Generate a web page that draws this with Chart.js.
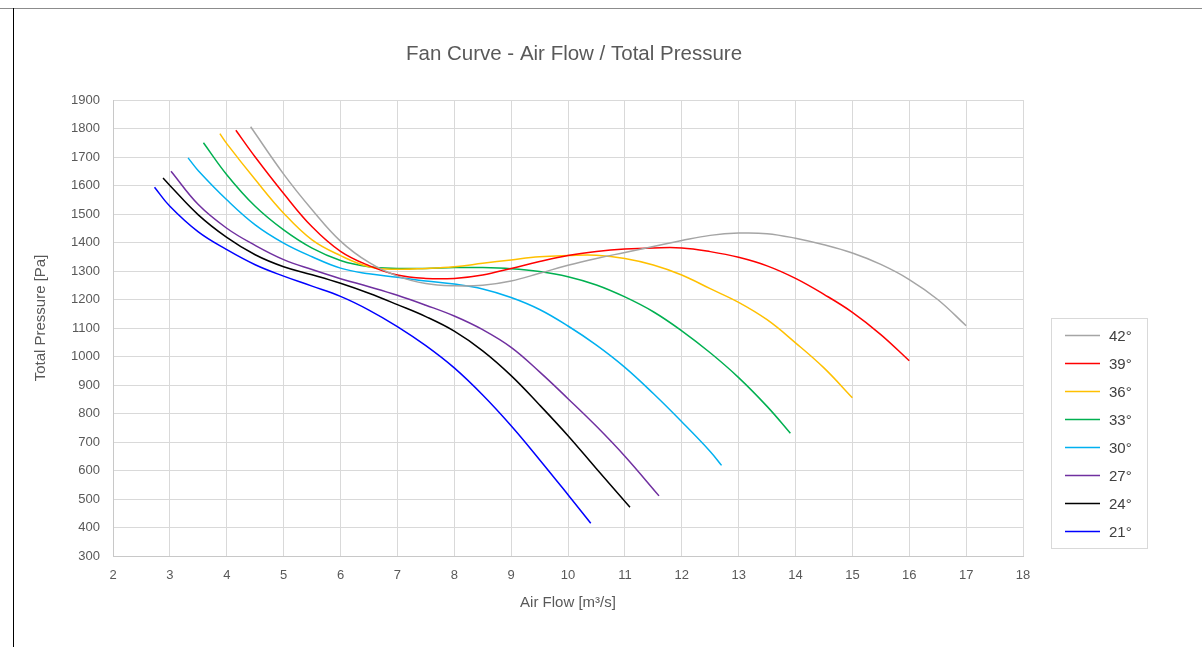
<!DOCTYPE html>
<html>
<head>
<meta charset="utf-8">
<title>Fan Curve</title>
<script src="https://cdn.jsdelivr.net/npm/chart.js@4.4.1/dist/chart.umd.min.js"></script>
<style>
  html, body { margin: 0; padding: 0; background: #fff; }
  #wrap { position: relative; width: 1202px; height: 647px; overflow: hidden; }
  #frameTop { position: absolute; left: 0; top: 8px; width: 1202px; height: 1px; background: #8c8c8c; }
  #frameLeft { position: absolute; left: 13px; top: 8px; width: 1px; height: 639px; background: #000; }
  canvas { position: absolute; left: 0; top: 0; }
</style>
</head>
<body>
<div id="wrap">
  <canvas id="fanChart" width="1202" height="647"></canvas>
  <div id="frameTop"></div>
  <div id="frameLeft"></div>
</div>
<script>
// blade angles (legend order) and line colours
const angles = ['42°', '39°', '36°', '33°', '30°', '27°', '24°', '21°'];
const colors = ['#a5a5a5', '#ff0000', '#ffc000', '#00b050', '#00b0f0', '#7030a0', '#000000', '#0000ff'];

// air flow [m³/s] / total pressure [Pa]
const flow42 = [4.42, 5, 5.5, 6, 6.5, 7, 7.5, 8, 8.5, 9, 9.5, 10, 10.5, 11, 11.5, 12, 12.5, 13, 13.5, 14, 14.5, 15, 15.5, 16, 16.5, 17];
const pres42 = [1806, 1640, 1515, 1405, 1330, 1282, 1256, 1248, 1250, 1265, 1292, 1320, 1344, 1365, 1386, 1407, 1425, 1433, 1431, 1415, 1392, 1363, 1323, 1270, 1200, 1108];

const flow39 = [4.16, 4.5, 5, 5.5, 6, 6.5, 7, 7.5, 8, 8.5, 9, 9.5, 10, 10.5, 11, 11.5, 12, 12.5, 13, 13.5, 14, 14.5, 15, 15.5, 16];
const pres39 = [1794, 1700, 1572, 1455, 1369, 1319, 1286, 1274, 1274, 1286, 1309, 1333, 1354, 1368, 1377, 1381, 1381, 1368, 1348, 1318, 1274, 1218, 1155, 1077, 985];

const flow36 = [3.88, 4, 4.5, 5, 5.5, 6, 6.5, 7, 7.5, 8, 8.5, 9, 9.5, 10, 10.5, 11, 11.5, 12, 12.5, 13, 13.5, 14, 14.5, 15];
const pres36 = [1782, 1747, 1621, 1503, 1409, 1354, 1315, 1306, 1309, 1315, 1327, 1339, 1350, 1354, 1355, 1344, 1321, 1286, 1238, 1190, 1129, 1048, 960, 855];

const flow33 = [3.59, 4, 4.5, 5, 5.5, 6, 6.5, 7, 7.5, 8, 8.5, 9, 9.5, 10, 10.5, 11, 11.5, 12, 12.5, 13, 13.5, 13.91];
const pres33 = [1750, 1638, 1527, 1444, 1380, 1337, 1315, 1309, 1309, 1312, 1312, 1308, 1298, 1280, 1251, 1209, 1157, 1090, 1013, 926, 825, 731];

const flow30 = [3.32, 3.5, 4, 4.5, 5, 5.5, 6, 6.5, 7, 7.5, 8, 8.5, 9, 9.5, 10, 10.5, 11, 11.5, 12, 12.5, 12.7];
const pres30 = [1697, 1652, 1550, 1462, 1398, 1350, 1310, 1290, 1278, 1265, 1254, 1237, 1207, 1165, 1107, 1040, 962, 870, 771, 667, 618];

const flow27 = [3.02, 3.5, 4, 4.5, 5, 5.5, 6, 6.5, 7, 7.5, 8, 8.5, 9, 9.5, 10, 10.5, 11, 11.6];
const pres27 = [1650, 1533, 1450, 1390, 1340, 1305, 1273, 1245, 1215, 1180, 1142, 1094, 1032, 946, 852, 755, 650, 511];

const flow24 = [2.88, 3, 3.5, 4, 4.5, 5, 5.5, 6, 6.5, 7, 7.5, 8, 8.5, 9, 9.5, 10, 10.5, 11.09];
const pres24 = [1626, 1600, 1497, 1418, 1357, 1315, 1287, 1257, 1222, 1182, 1140, 1089, 1020, 933, 830, 722, 606, 471];

const flow21 = [2.73, 3, 3.5, 4, 4.5, 5, 5.5, 6, 6.5, 7, 7.5, 8, 8.5, 9, 9.5, 10, 10.4];
const pres21 = [1594, 1527, 1437, 1375, 1322, 1282, 1247, 1211, 1163, 1105, 1038, 960, 865, 757, 638, 515, 415];

const flows = [flow42, flow39, flow36, flow33, flow30, flow27, flow24, flow21];
const pressures = [pres42, pres39, pres36, pres33, pres30, pres27, pres24, pres21];

const fontFamily = '"Liberation Sans", Arial, sans-serif';
const textColor = '#595959';

// chart title, rotated y title and the Excel-style boxed legend
const decorations = {
    id: 'decorations',
    afterDraw(chart) {
        const ctx = chart.ctx;
        ctx.save();
        ctx.fillStyle = textColor;
        ctx.textAlign = 'center';
        ctx.textBaseline = 'middle';
        ctx.font = '20.5px ' + fontFamily;
        ctx.fillText('Fan Curve - Air Flow / Total Pressure', 574, 54);

        ctx.font = '15px ' + fontFamily;
        ctx.translate(41, 318);
        ctx.rotate(-Math.PI / 2);
        ctx.fillText('Total Pressure [Pa]', 0, 0);
        ctx.restore();

        ctx.save();
        ctx.strokeStyle = '#d9d9d9';
        ctx.lineWidth = 1;
        ctx.strokeRect(1051.5, 318.5, 96, 230);
        ctx.font = '15px ' + fontFamily;
        ctx.textBaseline = 'middle';
        chart.data.datasets.forEach((ds, i) => {
            const y = Math.round(335 + i * 28) + 0.5;
            ctx.strokeStyle = ds.borderColor;
            ctx.lineWidth = 1.5;
            ctx.beginPath();
            ctx.moveTo(1065, y);
            ctx.lineTo(1100, y);
            ctx.stroke();
            ctx.fillStyle = '#404040';
            ctx.fillText(ds.label, 1109, y + 1);
        });
        ctx.restore();
    }
};

const ctx = document.getElementById('fanChart').getContext('2d');
const fanChart = new Chart(ctx, {
    type: 'scatter',
    data: {
        datasets: angles.map((label, i) => ({
            label: label,
            data: flows[i].map((x, j) => ({ x: x, y: pressures[i][j] })),
            showLine: true,
            borderColor: colors[i],
            backgroundColor: colors[i],
            borderWidth: 1.5,
            pointRadius: 0,
            tension: 0.4,
            fill: false
        }))
    },
    options: {
        responsive: false,
        animation: false,
        layout: {
            padding: { left: 20, right: 179, top: 100, bottom: 12 }
        },
        plugins: {
            legend: { display: false },
            tooltip: { enabled: false },
            title: { display: false }
        },
        scales: {
            x: {
                type: 'linear',
                min: 2,
                max: 18,
                ticks: {
                    stepSize: 1,
                    color: textColor,
                    padding: 12,
                    font: { family: fontFamily, size: 13 }
                },
                grid: { color: '#d9d9d9', drawTicks: false },
                border: { color: '#c8c8c8' },
                title: {
                    display: true,
                    text: 'Air Flow [m³/s]',
                    color: textColor,
                    font: { family: fontFamily, size: 15 },
                    padding: { top: 0, bottom: 23 }
                },
                afterFit(scale) { scale.height = 79; }
            },
            y: {
                min: 300,
                max: 1900,
                ticks: {
                    stepSize: 50,
                    color: textColor,
                    padding: 13,
                    font: { family: fontFamily, size: 13 },
                    callback: (v) => (v % 100 === 0 ? v : '')
                },
                grid: {
                    drawTicks: false,
                    color: (c) => (c.tick && c.tick.value % 100 === 0 ? '#d9d9d9' : '#f2f2f2')
                },
                border: { color: '#c8c8c8' },
                afterFit(scale) { scale.width = 93; }
            }
        }
    },
    plugins: [decorations]
});
</script>
</body>
</html>
